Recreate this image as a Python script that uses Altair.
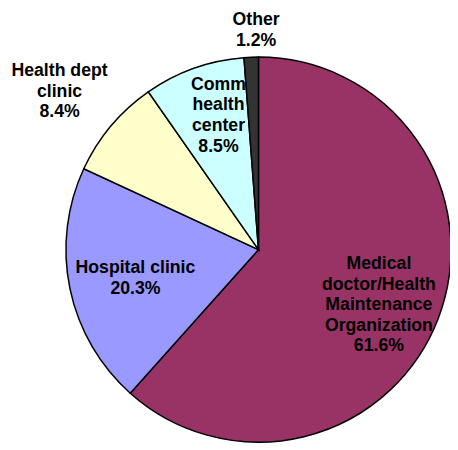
import math
import altair as alt
import pandas as pd

categories = [
    "Medical doctor/Health Maintenance Organization",
    "Hospital clinic",
    "Health dept clinic",
    "Comm health center",
    "Other",
]
label_text = [
    "Medical\ndoctor/Health\nMaintenance\nOrganization\n61.6%",
    "Hospital clinic\n20.3%",
    "Health dept\nclinic\n8.4%",
    "Comm\nhealth\ncenter\n8.5%",
    "Other\n1.2%",
]
percent = [61.6, 20.3, 8.4, 8.5, 1.2]
colors = ["#993366", "#9999FF", "#FFFFCC", "#CCFFFF", "#333333"]

df = pd.DataFrame({
    "category": categories,
    "percent": percent,
    "label": label_text,
    "order": list(range(len(categories))),
})

CX, CY = 255, 242
R = 196
LH = 21
theta_scale = alt.Scale(domain=[0, 100], range=[0, 2 * math.pi])

base = alt.Chart(df)

pie = base.mark_arc(radius=R, stroke="black", strokeWidth=1.5).encode(
    theta=alt.Theta("percent:Q", stack=True, scale=theta_scale),
    color=alt.Color("category:N", scale=alt.Scale(domain=categories, range=colors), legend=None),
    order=alt.Order("order:Q"),
    x=alt.value(CX),
    y=alt.value(CY),
)

# label placement: (radius, dx, dy) per category
placement = {
    categories[0]: (128, 3, 11),
    categories[1]: (132, 4, 3),
    categories[2]: (259, -4, 5.5),
    categories[3]: (142, 7, -2.5),
    categories[4]: (221, 6, -2),
}

layers = [pie]
for cat, lab in zip(categories, label_text):
    r, dx, dy = placement[cat]
    n = lab.count("\n") + 1
    t = (
        base.transform_window(
            cum="sum(percent)",
            sort=[alt.SortField("order", order="ascending")],
            frame=[None, 0],
        )
        .transform_calculate(mid="datum.cum - datum.percent / 2")
        .transform_filter(alt.datum.category == cat)
        .mark_text(
            radius=r, dx=dx, dy=dy - (n - 1) * LH / 2,
            font="Liberation Sans", fontWeight="bold", fontSize=18,
            lineBreak="\n", lineHeight=LH,
            align="center", baseline="middle", color="black",
        )
        .encode(
            theta=alt.Theta("mid:Q", scale=theta_scale),
            text="label:N",
            x=alt.value(CX),
            y=alt.value(CY),
        )
    )
    layers.append(t)

chart = (
    alt.layer(*layers)
    .properties(width=450, height=442, padding=0, autosize=alt.AutoSizeParams(type="none"))
    .configure_view(stroke=None)
)

chart.save("out.html", embed_options={"renderer": "svg", "actions": False})
